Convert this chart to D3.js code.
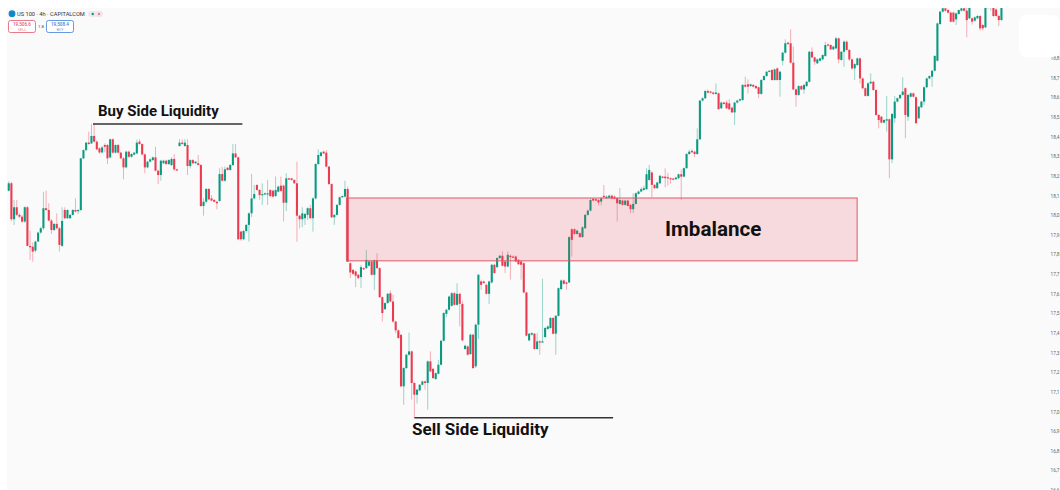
<!DOCTYPE html>
<html>
<head>
<meta charset="utf-8">
<script src="https://cdn.jsdelivr.net/npm/d3@7"></script>
<style>
  html, body { margin: 0; padding: 0; background: #fff; overflow: hidden; }
  text { font-family: Roboto, sans-serif; }
</style>
</head>
<body>
<div id="container"></div>
<script>
// DATA ####################################
const opens = [
18124,18162,17979,18040,18001,17992,17967,18040,17843,17839,17819,17865,17911,17933,18035,18026,17972,17924,17955,17933,
17843,18026,17984,17984,18001,18026,18023,18026,18289,18331,18369,18365,18403,18374,18340,18319,18357,18357,18294,18386,
18318,18357,18318,18289,18243,18323,18297,18308,18314,18374,18362,18309,18243,18272,18280,18294,18226,18204,18264,18277,
18260,18255,18286,18233,18352,18369,18352,18357,18250,18280,18264,18264,18255,18046,18068,18133,18085,18077,18068,18072,
18209,18175,18241,18230,18255,18314,18294,17916,17877,17919,17950,18009,18085,18153,18128,18102,18107,18107,18128,18124,
18097,18119,18150,18150,18063,18187,18187,18179,18162,17997,17979,17984,18001,18035,17984,18085,18260,18301,18323,18318,
18247,18158,17989,18001,18052,18091,18094,18133,17755,17721,17713,17696,17684,17730,17730,17742,17764,17696,17769,17730,
17582,17521,17552,17602,17560,17458,17413,17390,17128,17221,17289,17306,17145,17085,17107,17136,17153,17145,17255,17217,
17165,17192,17238,17360,17497,17518,17538,17602,17543,17599,17548,17318,17331,17292,17391,17230,17442,17662,17662,17645,
17599,17657,17747,17735,17781,17793,17764,17738,17793,17789,17789,17772,17764,17755,17606,17362,17391,17396,17318,17357,
17352,17379,17420,17425,17476,17396,17487,17623,17667,17657,17657,17928,17928,17904,17908,17888,17933,18001,18023,18083,
18081,18077,18069,18098,18086,18088,18099,18094,18086,18057,18074,18052,18074,18052,18030,18057,18108,18120,18128,18132,
18179,18217,18154,18137,18162,18196,18196,18193,18188,18186,18183,18188,18208,18196,18239,18311,18327,18323,18311,18386,
18583,18595,18632,18629,18624,18617,18620,18544,18573,18573,18569,18547,18523,18573,18583,18586,18663,18666,18657,18663,
18657,18651,18617,18688,18708,18730,18739,18688,18747,18688,18786,18827,18878,18875,18776,18640,18612,18657,18640,18657,
18679,18832,18803,18773,18786,18793,18810,18869,18866,18844,18849,18900,18790,18832,18883,18841,18793,18747,18764,18798,
18696,18646,18607,18671,18679,18637,18510,18501,18471,18481,18488,18284,18493,18578,18595,18612,18646,18501,18603,18620,
18600,18493,18549,18578,18651,18696,18705,18735,18786,18973,19036,19053,19044,19031,19031,18997,19024,19041,19053,19041,
19002,19002,18990,19002,19014,18968,18956,19070,19058,19061,19047,19014,18993
];
const closes = [
18162,17979,18040,18001,17992,17967,18040,17843,17836,17814,17865,17911,17933,18035,18026,17972,17924,17955,17933,17848,
17970,17984,18026,18001,18026,18018,18026,18289,18331,18369,18362,18403,18374,18335,18319,18345,18348,18289,18386,18318,
18357,18318,18289,18243,18323,18297,18311,18318,18369,18362,18309,18243,18272,18284,18294,18226,18204,18277,18277,18260,
18280,18286,18233,18230,18369,18362,18369,18250,18280,18264,18272,18255,18046,18068,18133,18080,18074,18068,18060,18209,
18175,18233,18230,18255,18314,18294,17877,17877,17919,17950,18009,18085,18107,18128,18102,18107,18111,18111,18097,18094,
18128,18145,18123,18063,18187,18182,18179,18162,17997,17979,18009,18006,18035,17984,18085,18260,18306,18319,18314,18247,
18158,17989,18001,18052,18091,18097,18133,17763,17708,17701,17691,17679,17735,17725,17772,17764,17696,17769,17730,17582,
17501,17552,17599,17560,17458,17413,17374,17128,17221,17289,17306,17145,17085,17111,17136,17153,17145,17255,17204,17170,
17195,17238,17360,17501,17518,17585,17602,17543,17599,17548,17362,17335,17289,17391,17221,17442,17696,17645,17654,17599,
17662,17747,17705,17781,17793,17742,17738,17798,17786,17786,17764,17750,17747,17606,17386,17396,17399,17318,17357,17352,
17357,17425,17433,17476,17396,17487,17628,17667,17650,17650,17888,17874,17904,17921,17888,17938,18001,18023,18077,18074,
18074,18064,18086,18091,18094,18099,18084,18084,18060,18077,18052,18074,18047,18030,18057,18111,18120,18132,18137,18208,
18230,18154,18137,18166,18200,18191,18188,18188,18183,18183,18191,18208,18196,18239,18311,18323,18320,18311,18386,18583,
18595,18632,18624,18624,18617,18624,18540,18573,18566,18544,18539,18523,18573,18583,18590,18663,18654,18654,18666,18654,
18646,18617,18688,18708,18730,18735,18688,18742,18688,18730,18827,18875,18871,18776,18640,18612,18657,18640,18663,18679,
18832,18803,18781,18793,18798,18815,18866,18863,18844,18858,18900,18793,18832,18883,18841,18793,18747,18769,18798,18696,
18646,18607,18671,18679,18637,18510,18484,18471,18484,18488,18284,18515,18578,18595,18612,18629,18510,18612,18620,18603,
18468,18552,18578,18651,18696,18708,18735,18810,18976,19036,19053,19041,19031,18985,18985,19027,19044,19053,19041,18993,
19070,18985,19007,19014,18951,18951,19070,19061,19070,19014,19014,18993,19070
];
const highs = [
18172,18170,18077,18077,18010,18000,18045,18045,17921,17860,17870,17916,17940,18119,18124,18060,17980,17960,18009,17940,
18040,18040,18030,18005,18030,18085,18030,18292,18335,18372,18425,18464,18467,18380,18345,18350,18365,18362,18390,18390,
18360,18362,18322,18295,18328,18328,18315,18322,18384,18386,18366,18314,18276,18288,18298,18348,18232,18282,18282,18282,
18285,18295,18311,18236,18386,18386,18386,18386,18285,18285,18276,18306,18260,18085,18138,18138,18102,18082,18072,18238,
18245,18247,18245,18260,18362,18362,18298,17920,17924,17955,18014,18209,18153,18158,18132,18162,18115,18179,18132,18130,
18196,18150,18196,18155,18213,18190,18190,18183,18272,18001,18040,18010,18040,18052,18090,18265,18335,18323,18328,18331,
18250,18162,18005,18056,18095,18100,18175,18145,17760,17726,17718,17700,17747,17734,17823,17770,17770,17774,17806,17734,
17586,17556,17604,17616,17594,17462,17418,17395,17226,17294,17402,17310,17150,17115,17140,17157,17157,17260,17306,17222,
17199,17263,17365,17506,17522,17590,17608,17608,17653,17604,17564,17340,17336,17396,17396,17447,17700,17671,17666,17650,
17666,17752,17752,17785,17798,17815,17770,17815,17800,17795,17795,17777,17770,17760,17610,17400,17403,17400,17399,17362,
17676,17430,17438,17481,17481,17492,17632,17672,17672,17662,17892,17933,17933,17926,17912,17943,18006,18028,18085,18087,
18085,18082,18091,18154,18100,18104,18104,18100,18090,18137,18079,18079,18079,18057,18111,18116,18125,18142,18150,18238,
18255,18222,18158,18170,18205,18200,18238,18215,18192,18190,18195,18212,18233,18243,18316,18333,18335,18328,18442,18587,
18600,18637,18640,18633,18629,18671,18625,18577,18577,18585,18590,18552,18577,18587,18594,18667,18705,18691,18670,18667,
18661,18655,18693,18712,18734,18739,18744,18746,18752,18734,18831,18895,18883,18946,18858,18645,18662,18662,18667,18684,
18836,18854,18807,18798,18802,18819,18883,18873,18870,18862,18908,18905,18836,18890,18890,18845,18797,18773,18802,18802,
18700,18650,18676,18722,18684,18641,18514,18505,18490,18607,18493,18520,18607,18600,18616,18702,18650,18616,18624,18624,
18604,18556,18582,18656,18700,18712,18739,18815,18980,19040,19060,19060,19050,19036,19036,19032,19048,19058,19058,19060,
19080,19006,19012,19018,19018,18972,19080,19085,19085,19080,19052,19020,19085
];
const lows = [
18120,17970,17950,17995,17985,17960,17960,17840,17772,17763,17810,17905,17905,17925,18020,17968,17904,17918,17928,17814,
17838,17980,17980,17980,17998,18014,18005,18020,18285,18325,18358,18362,18370,18330,18312,18315,18320,18260,18288,18312,
18314,18314,18285,18182,18238,18290,18292,18304,18310,18358,18304,18213,18238,18268,18276,18222,18158,18175,18260,18255,
18255,18250,18225,18226,18348,18358,18348,18204,18238,18258,18260,18252,18042,17997,18060,18076,18070,18064,18029,18068,
18170,18170,18226,18226,18250,18290,17872,17870,17872,17910,17865,17990,18080,18124,18077,18052,18104,18052,18090,18090,
18092,18115,18118,17967,18020,18178,18175,18158,17865,17933,17938,17950,17975,17980,17916,18080,18255,18296,18310,18243,
18154,17985,17950,17997,18048,18088,18090,17760,17679,17695,17633,17674,17628,17720,17725,17738,17692,17619,17725,17578,
17458,17516,17548,17555,17452,17399,17370,17124,17034,17216,17284,17060,16966,17040,17103,17132,17111,17009,17200,17165,
17161,17188,17234,17356,17480,17514,17534,17538,17538,17433,17358,17314,17284,17288,17216,17221,17369,17620,17650,17595,
17548,17652,17700,17730,17777,17738,17705,17734,17671,17782,17760,17746,17671,17602,17382,17358,17387,17314,17314,17289,
17348,17375,17416,17421,17392,17289,17483,17619,17646,17620,17653,17789,17900,17900,17884,17884,17929,17997,18019,18070,
18070,18050,18050,18086,18082,18084,18080,18080,17967,18053,18048,18048,18043,18010,18010,18053,18104,18116,18124,18128,
18175,18091,18133,18133,18158,18187,18142,18150,18160,18178,18179,18184,18077,18192,18235,18307,18316,18296,18307,18382,
18579,18591,18620,18620,18613,18613,18535,18540,18562,18540,18535,18519,18459,18569,18579,18582,18650,18620,18653,18650,
18642,18595,18613,18684,18704,18726,18684,18684,18684,18603,18763,18822,18867,18772,18636,18552,18608,18636,18617,18653,
18675,18799,18765,18769,18782,18789,18806,18859,18840,18840,18845,18773,18786,18755,18837,18785,18740,18688,18760,18671,
18642,18603,18603,18667,18633,18506,18442,18467,18467,18425,18188,18264,18470,18574,18591,18608,18391,18480,18599,18599,
18464,18489,18545,18560,18647,18692,18653,18731,18782,18969,19032,19037,19027,18981,18981,18968,19020,19037,19037,18905,
18998,18970,18985,18998,18940,18940,18952,19050,19040,19010,19010,18963,18990
];

const priceTicks = [18800,18700,18600,18500,18400,18300,18200,18100,18000,17900,17800,17700,17600,17500,17400,17300,17200,17100,17000,16900,16800,16700,16600];

// zone and liquidity levels, in candle index and price
const imbalance = { from: 127, to: 318.5, top: 18087, bottom: 17767, label: "Imbalance" };
const buySide = { from: 32, to: 88, price: 18464, label: "Buy Side Liquidity" };
const sellSide = { from: 152.5, to: 227, price: 16968, label: "Sell Side Liquidity" };

// CONSTANTS ###############################
const width = 1060, height = 490;
const green = "#0b9a80", red = "#ec3a50";

// SCALES ----------------------------------
const xScale = d3.scaleBand()
  .domain(d3.range(opens.length))
  .range([7.7, 7.7 + 2.667 * opens.length])
  .paddingInner(.22);

// same pixels as the band scale, but takes part indexes for the zone and level ends
const xIndex = d3.scaleLinear()
  .domain([0, opens.length])
  .range(xScale.range());

const yScale = d3.scaleLinear()
  .domain([18800, 16600])
  .range([58, 490]);

const xMid = i => xScale(i) + xScale.bandwidth() / 2;

// DRAW ####################################
const svg = d3.select("#container")
  .append("svg")
  .attr("width", width)
  .attr("height", height)
  .style("display", "block")
  .style("background-color", "#fff");

svg.append("rect")
  .attr("x", 7).attr("y", 8)
  .attr("width", width - 7).attr("height", height - 8)
  .attr("fill", "#fafafa");

svg.append("clipPath").attr("id", "plot")
  .append("rect").attr("x", 7).attr("y", 8)
  .attr("width", width - 7).attr("height", height - 8);

const candles = svg.append("g").attr("clip-path", "url(#plot)");

// WICKS
candles.selectAll("line.wick")
  .data(opens)
  .join("line")
  .attr("class", "wick")
  .attr("x1", (d, i) => xMid(i))
  .attr("x2", (d, i) => xMid(i))
  .attr("y1", (d, i) => yScale(highs[i]))
  .attr("y2", (d, i) => yScale(lows[i]))
  .attr("stroke", (d, i) => closes[i] >= d ? green : red)
  .attr("stroke-opacity", .4)
  .attr("stroke-width", 1);

// BODIES
candles.selectAll("rect.body")
  .data(opens)
  .join("rect")
  .attr("class", "body")
  .attr("x", (d, i) => xScale(i))
  .attr("y", (d, i) => yScale(Math.max(d, closes[i])))
  .attr("width", xScale.bandwidth())
  .attr("height", (d, i) => Math.max(1.2, Math.abs(yScale(d) - yScale(closes[i]))))
  .attr("fill", (d, i) => closes[i] >= d ? green : red);

// IMBALANCE ZONE
svg.append("rect")
  .attr("x", xIndex(imbalance.from))
  .attr("y", yScale(imbalance.top))
  .attr("width", xIndex(imbalance.to) - xIndex(imbalance.from))
  .attr("height", yScale(imbalance.bottom) - yScale(imbalance.top))
  .attr("fill", "#ee3a4a")
  .attr("fill-opacity", .16)
  .attr("stroke", "#de5a68")
  .attr("stroke-width", 1);

svg.append("text")
  .attr("x", 665).attr("y", 236)
  .attr("font-size", 20.6).attr("font-weight", 700).attr("fill", "#111")
  .text(imbalance.label);

// LIQUIDITY LINES
svg.selectAll("line.level")
  .data([buySide, sellSide])
  .join("line")
  .attr("class", "level")
  .attr("x1", d => xIndex(d.from))
  .attr("x2", d => xIndex(d.to))
  .attr("y1", d => yScale(d.price))
  .attr("y2", d => yScale(d.price))
  .attr("stroke", "#333")
  .attr("stroke-width", 1.4);

svg.append("text")
  .attr("x", 98).attr("y", 116)
  .attr("font-size", 15).attr("font-weight", 700).attr("fill", "#111")
  .text(buySide.label);

svg.append("text")
  .attr("x", 412).attr("y", 435)
  .attr("font-size", 17).attr("font-weight", 700).attr("fill", "#111")
  .text(sellSide.label);

// PRICE AXIS
// only the first digits fit before the page edge
const axis = svg.append("g")
  .attr("transform", "translate(1050.5,0)")
  .call(d3.axisRight(yScale)
    .tickValues(priceTicks)
    .tickSize(0)
    .tickPadding(0)
    .tickFormat(d => d3.format(",")(d).slice(0, 4)));
axis.select(".domain").remove();
axis.selectAll("text")
  .attr("font-size", 4.8)
  .attr("font-family", "Roboto, sans-serif")
  .attr("fill", "#666");

// white box over the top of the axis
svg.append("rect")
  .attr("x", 1019).attr("y", 15)
  .attr("width", 41).attr("height", 42)
  .attr("rx", 8)
  .attr("fill", "#fff");

// HEADER
svg.append("circle").attr("cx", 12).attr("cy", 13.7).attr("r", 3.4).attr("fill", "#1487c9");
svg.append("text").attr("x", 17).attr("y", 16.2)
  .attr("font-size", 5.7).attr("fill", "#333")
  .text("US 100 · 4h · CAPITALCOM");
svg.append("rect").attr("x", 88).attr("y", 11).attr("width", 15).attr("height", 6).attr("rx", 3).attr("fill", "#f3e6ec");
svg.append("circle").attr("cx", 92.7).attr("cy", 14).attr("r", 1.2).attr("fill", green);
svg.append("circle").attr("cx", 99).attr("cy", 14).attr("r", 1.2).attr("fill", "#ee7f9f");

const quotes = svg.selectAll("g.quote")
  .data([
    { x: 8.5, price: "19,506.6", side: "SELL", color: "#e2596d" },
    { x: 46.5, price: "19,508.4", side: "BUY", color: "#3f7fd8" }
  ])
  .join("g")
  .attr("class", "quote")
  .attr("transform", d => `translate(${d.x},20.5)`);
quotes.append("rect")
  .attr("width", 27).attr("height", 12).attr("rx", 2)
  .attr("fill", "#fff").attr("stroke", d => d.color).attr("stroke-width", .8);
quotes.append("text")
  .attr("x", 13.5).attr("y", 5)
  .attr("text-anchor", "middle").attr("font-size", 4.6).attr("font-weight", 500)
  .attr("fill", d => d.color).text(d => d.price);
quotes.append("text")
  .attr("x", 13.5).attr("y", 10)
  .attr("text-anchor", "middle").attr("font-size", 3.8)
  .attr("fill", d => d.color).attr("fill-opacity", .8).text(d => d.side);
svg.append("text").attr("x", 41).attr("y", 28)
  .attr("text-anchor", "middle").attr("font-size", 4.4).attr("fill", "#555").text("1.8");
</script>
</body>
</html>
